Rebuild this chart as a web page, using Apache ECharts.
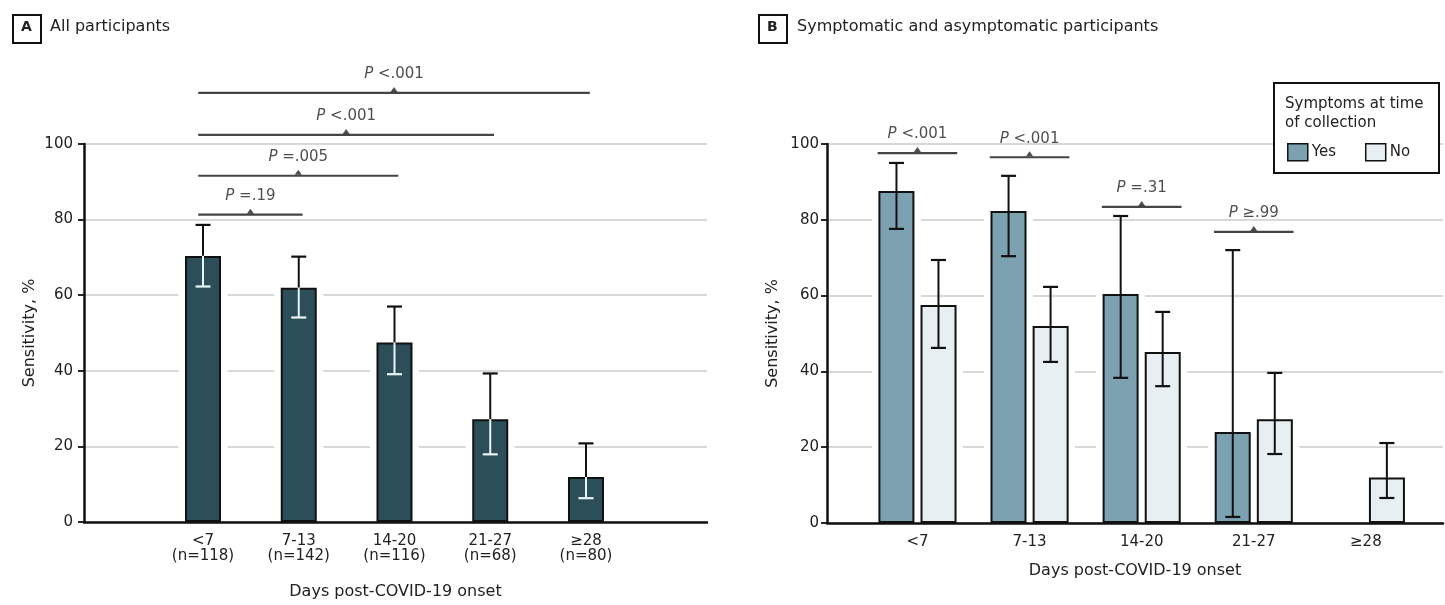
<!DOCTYPE html>
<html><head><meta charset="utf-8">
<script src="https://cdn.jsdelivr.net/npm/echarts@6/dist/echarts.min.js"></script>
<style>html,body{margin:0;padding:0;background:#fff}#c{width:1445px;height:605px}</style>
</head><body><div id="c"></div>
<script>
// ---------- data ----------
const categories = ['<7', '7-13', '14-20', '21-27', '≥28'];
const countsA = ['(n=118)', '(n=142)', '(n=116)', '(n=68)', '(n=80)'];
const yTicks = [0, 20, 40, 60, 80, 100];

// Panel A: all participants
const sensA = [70.4, 62.0, 47.5, 27.2, 11.9];
const lowA  = [62.3, 54.1, 39.1, 17.9, 6.3];
const highA = [78.6, 70.2, 57.0, 39.3, 20.8];

// Panel B: symptoms at time of collection
const sensYes = [87.6, 82.3, 60.4, 24.0, null];
const lowYes  = [77.6, 70.4, 38.3, 1.6, null];
const highYes = [95.0, 91.6, 81.0, 72.0, null];
const sensNo  = [57.5, 52.0, 45.1, 27.4, 12.0];
const lowNo   = [46.2, 42.5, 36.1, 18.2, 6.6];
const highNo  = [69.4, 62.3, 55.7, 39.6, 21.1];

// P-value comparisons
const pTextA = ['=.19', '=.005', '<.001', '<.001'];
const pFromA = [1, 1, 1, 1];
const pToA   = [2, 3, 4, 5];
const pLevelA = [81.3, 91.6, 102.4, 113.5];

const pTextB = ['<.001', '<.001', '=.31', '≥.99'];
const pAtB   = [1, 2, 3, 4];
const pLevelB = [97.6, 96.5, 83.4, 76.8];

// ---------- styles ----------
const FONT = 'DejaVu Sans';
const TXT = '#222';
const FS = 15;
const FS_NAME = 16;
const BW = 36;

const chart = echarts.init(document.getElementById('c'), null, {renderer: 'canvas'});

function errRender(offset, splitColor) {
  return function (params, api) {
    const x = api.value(0), v = api.value(1), lo = api.value(2), hi = api.value(3);
    if (v == null || isNaN(v)) return null;
    const pv = api.coord([x, v]), pl = api.coord([x, lo]), ph = api.coord([x, hi]);
    const cx = pv[0] + offset, hw = 7.5;
    const dark = '#111';
    const low = splitColor || dark;
    return {type: 'group', children: [
      {type: 'line', shape: {x1: cx, y1: ph[1], x2: cx, y2: pv[1]}, style: {stroke: dark, lineWidth: 2}},
      {type: 'line', shape: {x1: cx - hw, y1: ph[1], x2: cx + hw, y2: ph[1]}, style: {stroke: dark, lineWidth: 2.2}},
      {type: 'line', shape: {x1: cx, y1: pv[1], x2: cx, y2: pl[1]}, style: {stroke: low, lineWidth: 2}},
      {type: 'line', shape: {x1: cx - hw, y1: pl[1], x2: cx + hw, y2: pl[1]}, style: {stroke: low, lineWidth: 2.2}}
    ]};
  };
}

// white halo behind bars (breaks the grid lines as in the original)
function haloRender(offset) {
  return function (params, api) {
    const x = api.value(0), v = api.value(1);
    if (v == null || isNaN(v)) return null;
    const pt = api.coord([x, v]), p0 = api.coord([x, 0]);
    const w = BW + 13;
    return {type: 'rect', shape: {x: pt[0] + offset - w / 2, y: pt[1] - 1, width: w, height: p0[1] - pt[1]},
      style: {fill: '#fff'}};
  };
}

function pLabel(t) { return '{i|P} ' + t; }
const richP = {i: {fontStyle: 'italic', fontFamily: FONT, fontSize: FS, color: TXT}};

const series = [];
// Panel A
series.push({
  type: 'custom', xAxisIndex: 0, yAxisIndex: 0, z: 1, silent: true,
  renderItem: haloRender(0), encode: {x: 0, y: 1},
  data: sensA.map((v, i) => [i + 1, v])
});
series.push({
  type: 'bar', xAxisIndex: 0, yAxisIndex: 0, barWidth: BW,
  data: sensA.map((v, i) => [i + 1, v]),
  itemStyle: {color: '#2b4e59', borderColor: '#111', borderWidth: 2},
  z: 2
});
series.push({
  type: 'custom', xAxisIndex: 0, yAxisIndex: 0, z: 4,
  renderItem: errRender(0, '#eaf5f8'),
  encode: {x: 0, y: [1, 2, 3]},
  data: sensA.map((v, i) => [i + 1, v, lowA[i], highA[i]])
});
// Panel B
series.push({
  type: 'custom', xAxisIndex: 1, yAxisIndex: 1, z: 1, silent: true,
  renderItem: haloRender(-21), encode: {x: 0, y: 1},
  data: sensYes.map((v, i) => [i + 1, v])
});
series.push({
  type: 'custom', xAxisIndex: 1, yAxisIndex: 1, z: 1, silent: true,
  renderItem: haloRender(21), encode: {x: 0, y: 1},
  data: sensNo.map((v, i) => [i + 1, v])
});
series.push({
  name: 'Yes', type: 'bar', xAxisIndex: 1, yAxisIndex: 1, barWidth: BW, barGap: '17%',
  data: sensYes.map((v, i) => [i + 1, v]),
  itemStyle: {color: '#7ca2b2', borderColor: '#111', borderWidth: 2},
  z: 2
});
series.push({
  name: 'No', type: 'bar', xAxisIndex: 1, yAxisIndex: 1, barWidth: BW, barGap: '17%',
  data: sensNo.map((v, i) => [i + 1, v]),
  itemStyle: {color: '#e8eff2', borderColor: '#111', borderWidth: 2},
  z: 2
});
series.push({
  type: 'custom', xAxisIndex: 1, yAxisIndex: 1, z: 4,
  renderItem: errRender(-21),
  encode: {x: 0, y: [1, 2, 3]},
  data: sensYes.map((v, i) => [i + 1, v, lowYes[i], highYes[i]])
});
series.push({
  type: 'custom', xAxisIndex: 1, yAxisIndex: 1, z: 4,
  renderItem: errRender(21),
  encode: {x: 0, y: [1, 2, 3]},
  data: sensNo.map((v, i) => [i + 1, v, lowNo[i], highNo[i]])
});

// Brackets A
pTextA.forEach((t, k) => {
  const x0 = pFromA[k] - 0.05, x1 = pToA[k] + 0.04, y = pLevelA[k];
  series.push({
    type: 'line', xAxisIndex: 0, yAxisIndex: 0, clip: false, symbol: 'none', silent: true,
    lineStyle: {color: '#444', width: 2.2}, z: 5,
    data: [[x0, y], [x1, y]]
  });
  series.push({
    type: 'scatter', xAxisIndex: 0, yAxisIndex: 0, clip: false, silent: true,
    symbol: 'triangle', symbolSize: [7, 5], symbolOffset: [0, -3.5], z: 6,
    itemStyle: {color: '#222'},
    label: {show: true, position: 'top', distance: 5, formatter: pLabel(t),
      fontFamily: FONT, fontSize: FS, color: TXT, rich: richP},
    data: [[(x0 + x1) / 2, y]]
  });
});
// Brackets B
pTextB.forEach((t, k) => {
  const x0 = pAtB[k] - 0.355, x1 = pAtB[k] + 0.355, y = pLevelB[k];
  series.push({
    type: 'line', xAxisIndex: 1, yAxisIndex: 1, clip: false, symbol: 'none', silent: true,
    lineStyle: {color: '#444', width: 2.2}, z: 5,
    data: [[x0, y], [x1, y]]
  });
  series.push({
    type: 'scatter', xAxisIndex: 1, yAxisIndex: 1, clip: false, silent: true,
    symbol: 'triangle', symbolSize: [7, 5], symbolOffset: [0, -3.5], z: 6,
    itemStyle: {color: '#222'},
    label: {show: true, position: 'top', distance: 5, formatter: pLabel(t),
      fontFamily: FONT, fontSize: FS, color: TXT, rich: richP},
    data: [[pAtB[k], y]]
  });
});

function yAxis(gridIndex, margin) {
  return {
    type: 'value', gridIndex, min: yTicks[0], max: yTicks[yTicks.length - 1], interval: 20,
    name: 'Sensitivity, %', nameLocation: 'middle', nameGap: 46,
    nameTextStyle: {fontFamily: FONT, fontSize: FS_NAME, color: TXT},
    axisLine: {show: true, onZero: false, lineStyle: {color: '#111', width: 2.5}},
    axisTick: {show: true, length: 6, lineStyle: {color: '#111', width: 1.8}},
    axisLabel: {margin, fontFamily: FONT, fontSize: FS, color: TXT},
    splitLine: {show: true, lineStyle: {color: '#cbcbcb', width: 1.6}}
  };
}

const option = {
  backgroundColor: '#fff',
  animation: false,
  textStyle: {fontFamily: FONT},
  grid: [
    {left: 84, right: 738, top: 144, bottom: 82},
    {left: 827, right: 2, top: 144, bottom: 82}
  ],
  xAxis: [
    {
      type: 'value', gridIndex: 0, min: -0.243, max: 6.264,
      name: 'Days post-COVID-19 onset', nameLocation: 'middle', nameGap: 62,
      nameTextStyle: {fontFamily: FONT, fontSize: FS_NAME, color: TXT},
      axisLine: {show: true, onZero: false, lineStyle: {color: '#111', width: 2.5}},
      axisTick: {show: false}, splitLine: {show: false},
      axisLabel: {customValues: [1, 2, 3, 4, 5], margin: 12, lineHeight: 15,
        fontFamily: FONT, fontSize: FS, color: TXT,
        formatter: v => categories[Math.round(v) - 1] + '\n' + countsA[Math.round(v) - 1]}
    },
    {
      type: 'value', gridIndex: 1, min: 0.193, max: 5.688,
      name: 'Days post-COVID-19 onset', nameLocation: 'middle', nameGap: 40,
      nameTextStyle: {fontFamily: FONT, fontSize: FS_NAME, color: TXT},
      axisLine: {show: true, onZero: false, lineStyle: {color: '#111', width: 2.5}},
      axisTick: {show: false}, splitLine: {show: false},
      axisLabel: {customValues: [1, 2, 3, 4, 5], margin: 12,
        fontFamily: FONT, fontSize: FS, color: TXT,
        formatter: v => categories[Math.round(v) - 1]}
    }
  ],
  yAxis: [yAxis(0, 11), yAxis(1, 8)],
  legend: {
    data: ['Yes', 'No'], left: 1282, top: 138, icon: 'rect', itemWidth: 20, itemHeight: 17,
    itemGap: 29, z: 20, selectedMode: false,
    itemStyle: {borderColor: '#111', borderWidth: 1.5},
    textStyle: {fontFamily: FONT, fontSize: FS, color: TXT, padding: [0, 0, 0, -1]}
  },
  graphic: [
    {type: 'rect', left: 12, top: 14, z: 10, shape: {width: 28, height: 28},
      style: {fill: '#fff', stroke: '#111', lineWidth: 2}},
    {type: 'text', left: 21, top: 20, z: 11,
      style: {text: 'A', font: 'bold 14px "DejaVu Sans"', fill: TXT}},
    {type: 'text', left: 50, top: 19, z: 11,
      style: {text: 'All participants', font: '16px "DejaVu Sans"', fill: TXT}},
    {type: 'rect', left: 758, top: 14, z: 10, shape: {width: 28, height: 28},
      style: {fill: '#fff', stroke: '#111', lineWidth: 2}},
    {type: 'text', left: 767, top: 20, z: 11,
      style: {text: 'B', font: 'bold 14px "DejaVu Sans"', fill: TXT}},
    {type: 'text', left: 797, top: 19, z: 11,
      style: {text: 'Symptomatic and asymptomatic participants', font: '16px "DejaVu Sans"', fill: TXT}},
    {type: 'rect', left: 1273, top: 82, z: 10, shape: {width: 165, height: 90},
      style: {fill: '#fff', stroke: '#111', lineWidth: 2}},
    {type: 'text', left: 1285, top: 95, z: 11,
      style: {text: 'Symptoms at time\nof collection', font: '15px "DejaVu Sans"', lineHeight: 19, fill: TXT}}
  ],
  series
};
chart.setOption(option);
</script></body></html>
